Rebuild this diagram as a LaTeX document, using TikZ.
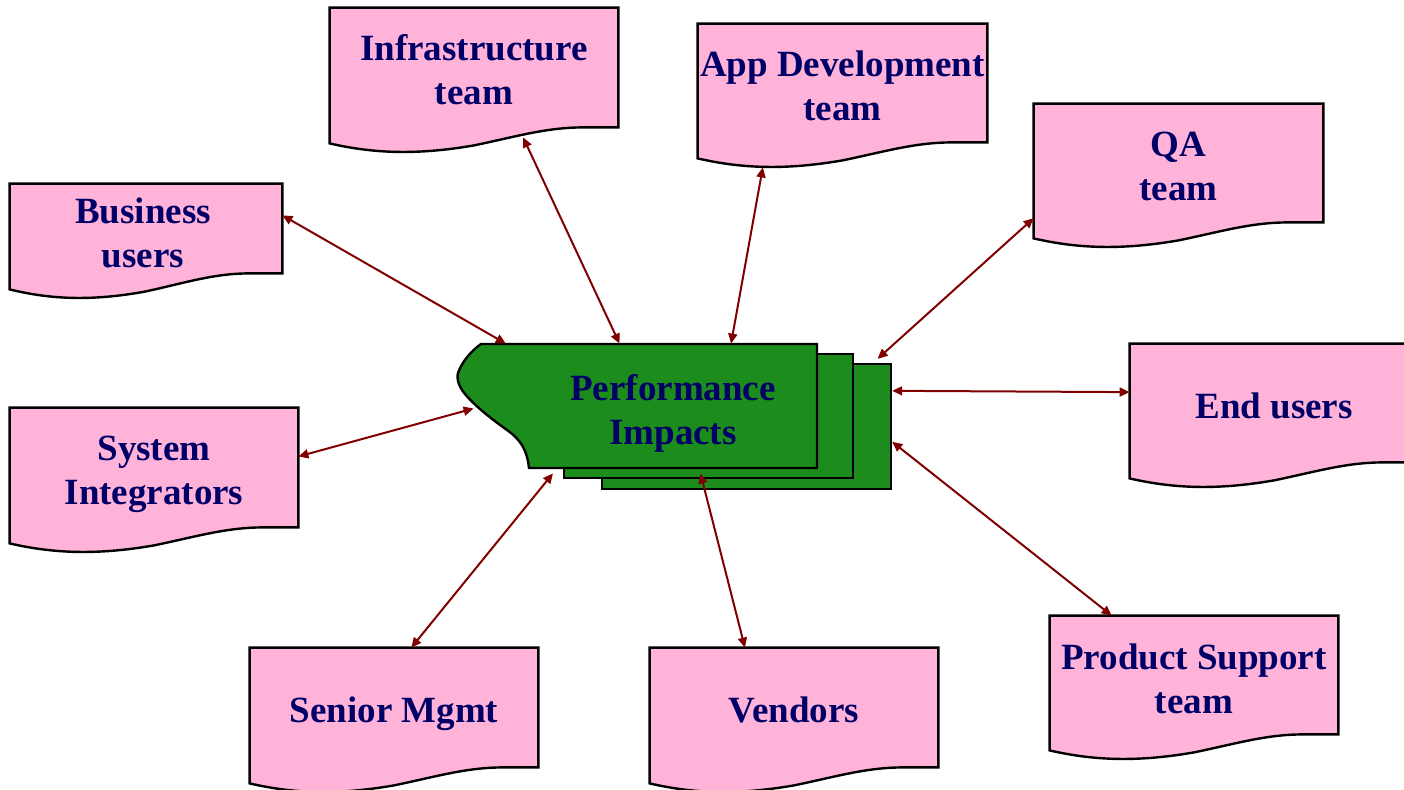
\documentclass[tikz,border=0pt]{standalone}
\usepackage{fontspec}
\setmainfont{Liberation Serif}
\usetikzlibrary{calc,arrows.meta,backgrounds}

\definecolor{docpink}{RGB}{255,179,217}
\definecolor{pagegreen}{RGB}{28,140,28}
\definecolor{labelnavy}{RGB}{0,0,102}
\definecolor{linkred}{RGB}{128,0,0}

\tikzset{
  lbl/.style={font=\bfseries\fontsize{18.5}{22}\selectfont, text=labelnavy, align=center, inner sep=0pt},
  docbox/.style={rectangle, inner sep=0pt},
  docshape/.style={fill=docpink, draw=black, line width=1.2pt, line join=miter},
  pagebox/.style={rectangle, inner sep=0pt, fill=pagegreen, draw=black, line width=1.2pt},
  link/.style={draw=linkred, line width=1pt,
    {Triangle[length=5pt,width=4.5pt]}-{Triangle[length=5pt,width=4.5pt]}},
}

% document outline (flat top, wavy bottom) around a named box node
\newcommand{\wavedoc}[1]{%
  \begin{pgfonlayer}{background}
  \path[docshape] let \p1=(#1.north west), \p2=(#1.south east), \n1={\x2-\x1} in
    (\x1,\y1) -- (\x2,\y1) -- (\x2,\y2+8pt) -- ({\x1+0.88*\n1},\y2+8pt)
    .. controls ({\x1+0.75*\n1},\y2+8pt) and ({\x1+0.65*\n1},\y2+3.5pt) .. ({\x1+0.5*\n1},\y2-1pt)
    .. controls ({\x1+0.3*\n1},\y2-6pt) and ({\x1+0.15*\n1},\y2-5pt) .. (\x1,\y2) -- cycle;
  \end{pgfonlayer}}

\begin{document}
\begin{tikzpicture}[x=0.5pt,y=-0.5pt]
\useasboundingbox (0,0) rectangle (1404,790);

% stakeholder boxes
\node[docbox, minimum width=144pt,   minimum height=67.5pt] (infra)   at (474,75.5)   {};
\node[docbox, minimum width=144.5pt, minimum height=67pt]   (appdev)  at (842.5,91)   {};
\node[docbox, minimum width=144.5pt, minimum height=67pt]   (qa)      at (1178.5,171) {};
\node[docbox, minimum width=136pt,   minimum height=52.5pt] (biz)     at (146,236.5)  {};
\node[docbox, minimum width=144pt,   minimum height=67pt]   (endu)    at (1274,411)   {};
\node[docbox, minimum width=144pt,   minimum height=67.5pt] (sysint)  at (154,475.5)  {};
\node[docbox, minimum width=144pt,   minimum height=67.5pt] (senior)  at (394,715.5)  {};
\node[docbox, minimum width=144pt,   minimum height=67.5pt] (vendors) at (794,715.5)  {};
\node[docbox, minimum width=144pt,   minimum height=67pt]   (prodsup) at (1194,683)   {};

\wavedoc{infra}\wavedoc{appdev}\wavedoc{qa}\wavedoc{biz}\wavedoc{endu}
\wavedoc{sysint}\wavedoc{senior}\wavedoc{vendors}\wavedoc{prodsup}

\node[lbl] (infra-t)   at ($(infra)+(0,-6)$)   {Infrastructure\\team};
\node[lbl] (appdev-t)  at ($(appdev)+(0,-5)$)  {App Development\\team};
\node[lbl] (qa-t)      at ($(qa)+(0,-5)$)      {QA\\team};
\node[lbl] (biz-t)     at ($(biz)+(-3,-3.5)$)  {Business\\users};
\node[lbl] (endu-t)    at ($(endu)+(0,-5)$)    {End users};
\node[lbl] (sysint-t)  at ($(sysint)+(0,-1.5)$) {System\\Integrators};
\node[lbl] (senior-t)  at ($(senior)+(0,-2)$)  {Senior Mgmt};
\node[lbl] (vendors-t) at ($(vendors)+(0,-6)$) {Vendors};
\node[lbl] (prodsup-t) at ($(prodsup)+(0,-4)$) {Product Support\\team};

% stacked pages in the centre
\node[pagebox, minimum width=144.5pt, minimum height=62.5pt] (pback) at (746.5,426.5) {};
\node[pagebox, minimum width=144.5pt, minimum height=62pt]   (pmid)  at (708.5,416)   {};
\node[docbox,  minimum width=179.5pt, minimum height=62pt]   (pfront) at (637.5,406)  {};
\path[fill=pagegreen, draw=black, line width=1.2pt, line join=miter]
  (481,344) -- (817,344) -- (817,468) -- (529,468)
  .. controls (527,450) and (521,440) .. (507,430)
  .. controls (490,418) and (470,402) .. (462,390)
  .. controls (457,382) and (457,376) .. (458,373)
  .. controls (462,362) and (470,352) .. (481,344) -- cycle;
\node[lbl] (perf) at (673,413) {Performance\\Impacts};

% connectors
\draw[link] ($(biz.north east)!0.3!(biz.south east)$) -- ($(pfront.north west)!0.134!(pfront.north east)$);
\draw[link] ($(infra.south west)!0.67!(infra.south east)+(0,-6)$) -- ($(pfront.north west)!0.45!(pfront.north east)$);
\draw[link] ($(appdev.south west)!0.225!(appdev.south east)+(0,9)$) -- ($(pfront.north west)!0.76!(pfront.north east)$);
\draw[link] ($(qa.north west)!0.85!(qa.south west)$) -- ($(pback.north west)!0.95!(pback.north east)+(0,-4)$);
\draw[link] ($(endu.north west)!0.36!(endu.south west)$) -- ($(pback.north east)!0.22!(pback.south east)$);
\draw[link] ($(prodsup.north west)!0.215!(prodsup.north east)$) -- ($(pback.north east)!0.62!(pback.south east)$);
\draw[link] ($(vendors.north west)!0.33!(vendors.north east)$) -- ($(pfront.south west)!0.675!(pfront.south east)+(0,5)$);
\draw[link] ($(senior.north west)!0.56!(senior.north east)$) -- ($(pfront.south west)!0.265!(pfront.south east)+(0,5)$);
\draw[link] ($(sysint.north east)!0.36!(sysint.south east)$) -- ($(pfront.north west)!0.52!(pfront.south west)+(16,0)$);
\end{tikzpicture}
\end{document}
